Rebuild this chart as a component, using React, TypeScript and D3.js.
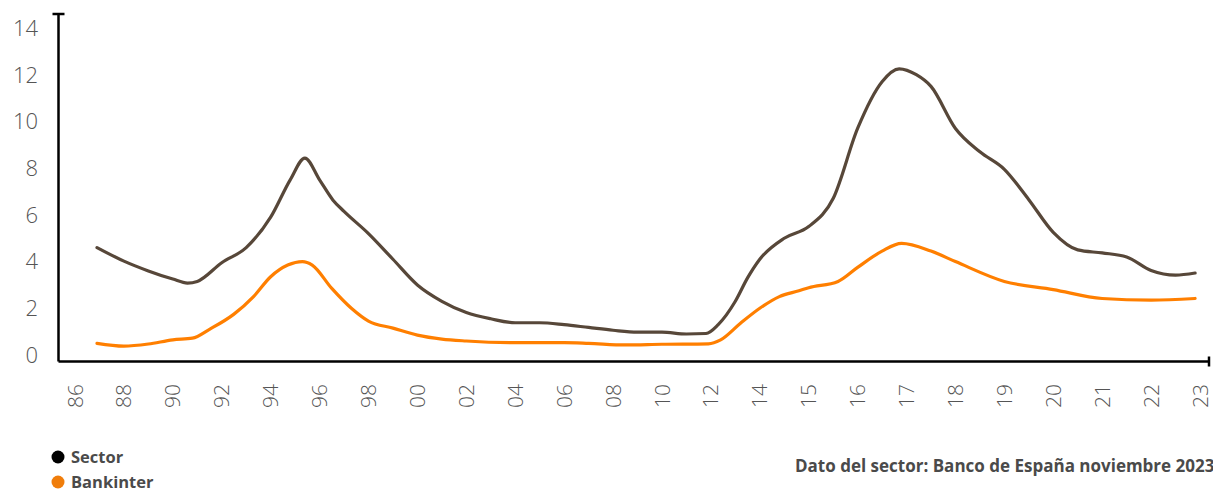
import React from "react";
import * as d3 from "d3";

const xLabels = ["86","88","90","92","94","96","98","00","02","04","06","08","10","12","14","15","16","17","18","19","20","21","22","23"];
const yTicks = [0, 2, 4, 6, 8, 10, 12, 14];

const sectorYears = [1986.9,1988,1989,1990,1990.6,1991,1992,1993,1994,1994.8,1995.4,1996,1996.55,1997,1998,1999,2000,2001,2002,2003,2004,2005,2006,2007,2008,2009,2010,2011,2011.8,2012.3,2013,2013.5,2014,2014.5,2015,2015.5,2016,2016.5,2016.85,2017.2,2017.5,2018,2018.5,2019,2019.5,2020,2020.5,2021,2021.5,2022,2022.5,2022.9];
const sectorValues = [4.6,4.02,3.6,3.25,3.08,3.15,3.95,4.6,5.9,7.5,8.43,7.5,6.63,6.15,5.2,4.1,3.0,2.3,1.82,1.55,1.38,1.38,1.3,1.18,1.06,0.98,0.98,0.9,0.92,1.3,2.3,3.3,4.1,5.0,5.5,6.7,9.7,11.7,12.25,12.0,11.5,9.7,8.7,7.95,6.65,5.25,4.5,4.37,4.2,3.62,3.42,3.51];

const bankinterYears = [1986.9,1988,1989,1990,1990.8,1991.5,1992.5,1993.3,1994,1994.7,1995.3,1995.7,1996.5,1997.3,1998,1999,2000,2001,2002,2004,2006,2007,2008.5,2010,2011.9,2012.4,2013.2,2014,2014.4,2014.8,2015,2015.6,2016,2016.5,2016.9,2017.5,2018,2019,2020,2021,2022,2022.9];
const bankinterValues = [0.5,0.38,0.47,0.65,0.72,1.1,1.75,2.5,3.35,3.85,4.0,3.85,2.85,2.0,1.45,1.15,0.85,0.68,0.6,0.53,0.53,0.5,0.43,0.46,0.48,0.65,1.35,2.0,2.5,2.75,2.88,3.15,3.75,4.45,4.78,4.45,4.0,3.15,2.8,2.42,2.35,2.42];

const legendItems = [
  { name: "Sector", color: "#000000" },
  { name: "Bankinter", color: "#f07d0b" },
];
const sourceText = "Dato del sector: Banco de España noviembre 2023";

export default function App() {
  const W = 1213, H = 491;
  const axisX = 58.5, axisY = 361.5, axisTop = 14, axisRight = 1209;

  const xPoint = d3.scalePoint<string>().domain(xLabels).range([75, 1200]);
  const x = d3.scaleLinear()
    .domain([1986, 2014, 2023])
    .range([xPoint("86")!, xPoint("14")!, xPoint("23")!]);
  const y = d3.scaleLinear().domain([0, 14]).range([355, 28]);

  const line = d3.line<[number, number]>()
    .x(d => x(d[0]))
    .y(d => y(d[1]))
    .curve(d3.curveMonotoneX);

  const sector = sectorYears.map((yr, i) => [yr, sectorValues[i]] as [number, number]);
  const bank = bankinterYears.map((yr, i) => [yr, bankinterValues[i]] as [number, number]);

  const tickFont = "'Open Sans', 'DejaVu Sans', sans-serif";

  return (
    <div style={{ position: "fixed", left: 0, top: 0, width: W, height: H, background: "#fff", overflow: "hidden" }}>
      <svg width={W} height={H} style={{ display: "block" }}>
        <path d={line(bank) || ""} fill="none" stroke="#ff7f00" strokeWidth={3.2} strokeLinejoin="round" strokeLinecap="round" />
        <path d={line(sector) || ""} fill="none" stroke="#574739" strokeWidth={3.2} strokeLinejoin="round" strokeLinecap="round" />

        <line x1={axisX} x2={axisX} y1={axisTop} y2={axisY} stroke="#000" strokeWidth={2.5} />
        <line x1={axisX - 6} x2={axisX + 6} y1={axisTop} y2={axisTop} stroke="#000" strokeWidth={2.5} />
        <line x1={axisX} x2={axisRight} y1={axisY} y2={axisY} stroke="#000" strokeWidth={2.5} />
        <line x1={axisRight} x2={axisRight} y1={axisY - 5} y2={axisY + 5} stroke="#000" strokeWidth={2.5} />

        {yTicks.map(t => (
          <text key={t} x={38} y={y(t)} dy="0.36em" textAnchor="end" fontFamily={tickFont} fontSize={22} fontWeight={300} fill="#555555">{t}</text>
        ))}

        {xLabels.map(l => (
          <text key={l} transform={`translate(${xPoint(l)},384) rotate(-90)`} dy="0.36em" textAnchor="end" fontFamily={tickFont} fontSize={21} fontWeight={300} fill="#555555">{l}</text>
        ))}

        {legendItems.map((it, i) => (
          <g key={it.name} transform={`translate(58,${457 + i * 25})`}>
            <circle r={6.5} fill={it.color} />
            <text x={13} dy="0.35em" fontFamily={tickFont} fontSize={16.5} fontWeight={700} fill="#4a4a4a">{it.name}</text>
          </g>
        ))}

        <text x={795} y={472} fontFamily={tickFont} fontSize={17} fontWeight={700} fill="#4a4a4a">{sourceText}</text>
      </svg>
    </div>
  );
}
